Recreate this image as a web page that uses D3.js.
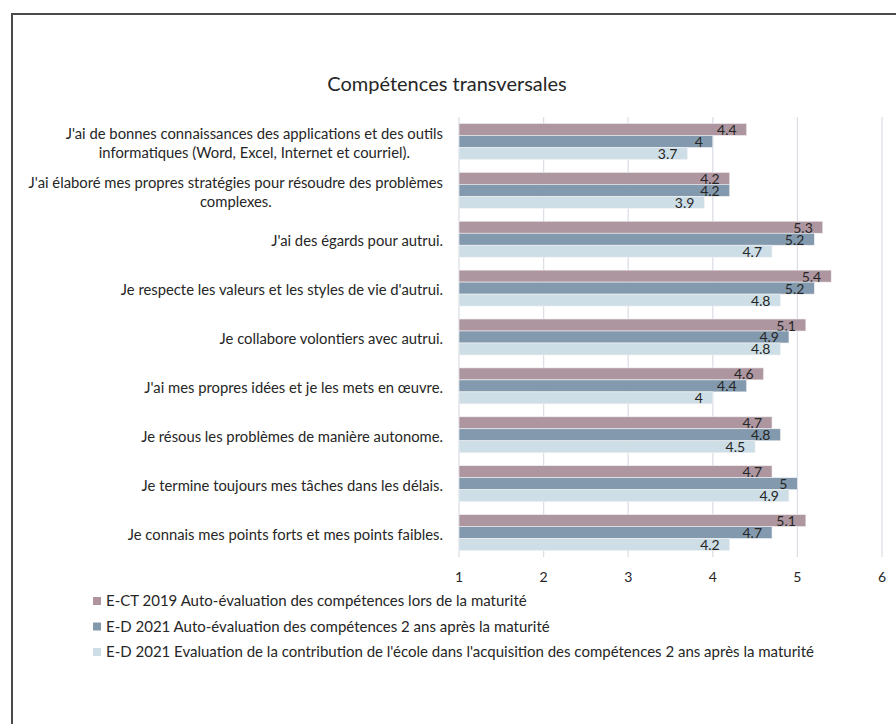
<!DOCTYPE html>
<html>
<head>
<meta charset="utf-8">
<script src="https://cdn.jsdelivr.net/npm/d3@7"></script>
<style>
  body { margin: 0; background: #fff; }
  text { font-family: Lato, "Open Sans", sans-serif; fill: #262626; }
</style>
</head>
<body>
<svg id="chart" width="896" height="724"></svg>
<script>
// categories, top to bottom (\n = line break as in the original)
let categories = [
  "J'ai de bonnes connaissances des applications et des outils\ninformatiques (Word, Excel, Internet et courriel).",
  "J'ai élaboré mes propres stratégies pour résoudre des problèmes\ncomplexes.",
  "J'ai des égards pour autrui.",
  "Je respecte les valeurs et les styles de vie d'autrui.",
  "Je collabore volontiers avec autrui.",
  "J'ai mes propres idées et je les mets en œuvre.",
  "Je résous les problèmes de manière autonome.",
  "Je termine toujours mes tâches dans les délais.",
  "Je connais mes points forts et mes points faibles."
];
let ect2019 = [4.4, 4.2, 5.3, 5.4, 5.1, 4.6, 4.7, 4.7, 5.1];
let ed2021auto = [4, 4.2, 5.2, 5.2, 4.9, 4.4, 4.8, 5, 4.7];
let ed2021ecole = [3.7, 3.9, 4.7, 4.8, 4.8, 4, 4.5, 4.9, 4.2];
let seriesNames = [
  "E-CT 2019 Auto-évaluation des compétences lors de la maturité",
  "E-D 2021 Auto-évaluation des compétences 2 ans après la maturité",
  "E-D 2021 Evaluation de la contribution de l'école dans l'acquisition des compétences 2 ans après la maturité"
];
let xTicks = [1, 2, 3, 4, 5, 6];
let colors = ["#ae96a0", "#839aae", "#cddee7"];

let series = [ect2019, ed2021auto, ed2021ecole];
let svg = d3.select("#chart");

// frame (top + left edges visible)
svg.append("path")
  .attr("d", "M12,724 L12,14 L896,14")
  .attr("fill", "none")
  .attr("stroke", "#4a4a4a")
  .attr("stroke-width", 2);

svg.append("text")
  .attr("x", 447).attr("y", 91)
  .attr("text-anchor", "middle")
  .style("font-size", "20px")
  .text("Compétences transversales");

let x = d3.scaleLinear().domain([1, 6]).range([459, 882]);
let y = d3.scaleBand().domain(d3.range(categories.length)).range([117, 557])
  .paddingInner(0.264).paddingOuter(0.132);
let ySub = d3.scaleBand().domain([0, 1, 2]).range([0, y.bandwidth()]);

// gridlines
svg.append("g").selectAll("line")
  .data(xTicks)
  .enter().append("line")
  .attr("x1", d => x(d)).attr("x2", d => x(d))
  .attr("y1", 117).attr("y2", 557)
  .attr("stroke", "#dcdfe6")
  .attr("stroke-width", 1.3);

// tick labels
svg.append("g").selectAll("text")
  .data(xTicks)
  .enter().append("text")
  .attr("x", d => x(d)).attr("y", 582)
  .attr("text-anchor", "middle")
  .style("font-size", "14px")
  .text(d => d);

// category labels (right aligned block, lines centred)
let catG = svg.append("g");
categories.forEach(function(c, i) {
  let lines = c.split("\n");
  let cy = y(i) + y.bandwidth() / 2 + 2;
  let t = catG.append("text")
    .style("font-size", "14.8px")
    .attr("text-anchor", "middle");
  lines.forEach(function(l, j) {
    t.append("tspan").attr("x", 0)
      .attr("y", cy + (j - (lines.length - 1) / 2) * 18.5)
      .attr("dy", "0.35em")
      .text(l);
  });
  let w = t.node().getBBox().width;
  t.attr("transform", "translate(" + (443 - w / 2) + ",0)");
});

// bars
series.forEach(function(vals, s) {
  let g = svg.append("g");
  g.selectAll("rect")
    .data(vals)
    .enter().append("rect")
    .attr("x", x(1))
    .attr("y", (d, i) => y(i) + ySub(s))
    .attr("width", d => x(d) - x(1))
    .attr("height", ySub.bandwidth())
    .attr("fill", colors[s])
    .attr("stroke", "#f2f2f2")
    .attr("stroke-width", 0.6);
  g.selectAll("text")
    .data(vals)
    .enter().append("text")
    .attr("x", d => x(d) - 10)
    .attr("y", (d, i) => y(i) + ySub(s) + ySub.bandwidth() - 0.5)
    .attr("text-anchor", "end")
    .style("font-size", "14px")
    .text(d => d);
});

// legend
let leg = svg.append("g");
seriesNames.forEach(function(n, i) {
  let ly = 601 + i * 25.5;
  leg.append("rect")
    .attr("x", 93).attr("y", ly - 4)
    .attr("width", 8).attr("height", 8)
    .attr("fill", colors[i]);
  leg.append("text")
    .attr("x", 106).attr("y", ly)
    .attr("dy", "0.35em")
    .style("font-size", "15px")
    .text(n);
});
</script>
</body>
</html>
